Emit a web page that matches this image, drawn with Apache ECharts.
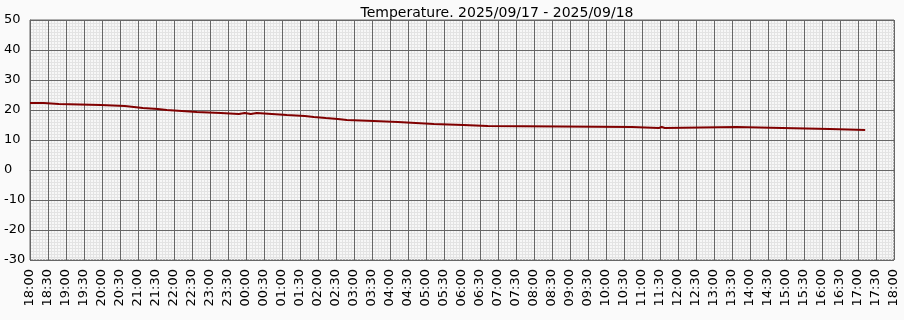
<!DOCTYPE html>
<html lang="en" style="height: 100%">
<head>
  <meta charset="UTF-8">
  <title>Temperature</title>
  <script src="https://cdn.jsdelivr.net/npm/echarts@6/dist/echarts.min.js"></script>
</head>
<body style="height: 100%; margin: 0; background: #fafafa">
  <div id="container" style="width: 904px; height: 320px"></div>
  <script>
    // tick labels every 30 minutes, starting 18:00
    var timeLabels = ['18:00', '18:30', '19:00', '19:30', '20:00', '20:30', '21:00', '21:30',
      '22:00', '22:30', '23:00', '23:30', '00:00', '00:30', '01:00', '01:30', '02:00', '02:30',
      '03:00', '03:30', '04:00', '04:30', '05:00', '05:30', '06:00', '06:30', '07:00', '07:30',
      '08:00', '08:30', '09:00', '09:30', '10:00', '10:30', '11:00', '11:30', '12:00', '12:30',
      '13:00', '13:30', '14:00', '14:30', '15:00', '15:30', '16:00', '16:30', '17:00', '17:30', '18:00'];

    // minutes since 18:00 when the reading changed
    var minutes = [0, 23, 48, 118, 158, 173, 188, 213, 228, 253, 278, 318, 348, 358, 368, 378,
      403, 428, 458, 473, 493, 513, 528, 573, 613, 643, 673, 722, 763, 1003, 1048, 1053, 1058,
      1178, 1253, 1333, 1392];
    var temps = [22.33, 22.0, 21.67, 21.33, 21.0, 20.67, 20.33, 20.0, 19.67, 19.33, 19.0, 18.67, 19.0, 18.67, 19.0, 18.67,
      18.33, 18.0, 17.67, 17.33, 17.0, 16.67, 16.33, 16.0, 15.67, 15.33, 15.0, 14.67, 14.33, 14.0, 14.33, 14.0, 14.33,
      14.0, 13.67, 13.33, 13.33];

    var chart = echarts.init(document.getElementById('container'));
    var data = minutes.map(function (m, i) { return [m, temps[i]]; });

    var font = 'DejaVu Sans';
    var minorLine = { show: true, lineStyle: { color: '#e3e3e3', width: 1, type: 'solid' } };
    var majorLine = { show: true, lineStyle: { color: '#666', width: 1, type: 'solid' } };

    var option = {
      backgroundColor: '#fafafa',
      animation: false,
      title: {
        text: 'Temperature. 2025/09/17 - 2025/09/18',
        left: 492,
        top: 1,
        textAlign: 'center',
        textStyle: { fontFamily: font, fontSize: 14, fontWeight: 'normal', color: '#000' }
      },
      grid: {
        left: 30, right: 10, top: 20, bottom: 60,
        show: true, backgroundColor: '#f7f7f7', borderColor: '#666', borderWidth: 1
      },
      xAxis: [{
        type: 'value',
        min: 0, max: 1440, interval: 30,
        z: 1,
        axisLine: { show: true, lineStyle: { color: '#666' } },
        axisTick: { show: false },
        axisLabel: {
          rotate: 90, margin: 9,
          fontFamily: font, fontSize: 13, color: '#000',
          formatter: function (v) { return timeLabels[Math.round(v / 30)]; }
        },
        splitLine: majorLine
      }, {
        // fine 5-minute grid
        type: 'value',
        min: 0, max: 1440, interval: 5,
        z: 0,
        axisLine: { show: false },
        axisTick: { show: false },
        axisLabel: { show: false },
        splitLine: minorLine
      }],
      yAxis: [{
        type: 'value',
        min: -30, max: 50, interval: 10,
        z: 1,
        axisLine: { show: true, lineStyle: { color: '#666' } },
        axisTick: { show: false },
        axisLabel: {
          margin: 26, align: 'left',
          fontFamily: font, fontSize: 13, color: '#000'
        },
        splitLine: majorLine
      }, {
        // fine 1-degree grid
        type: 'value',
        min: -30, max: 50, interval: 1,
        z: 0,
        axisLine: { show: false },
        axisTick: { show: false },
        axisLabel: { show: false },
        splitLine: minorLine
      }],
      series: [{
        type: 'line',
        step: 'end',
        data: data,
        xAxisIndex: 0,
        yAxisIndex: 0,
        showSymbol: false,
        lineStyle: { color: '#800000', width: 2 }
      }]
    };
    chart.setOption(option);
  </script>
</body>
</html>
